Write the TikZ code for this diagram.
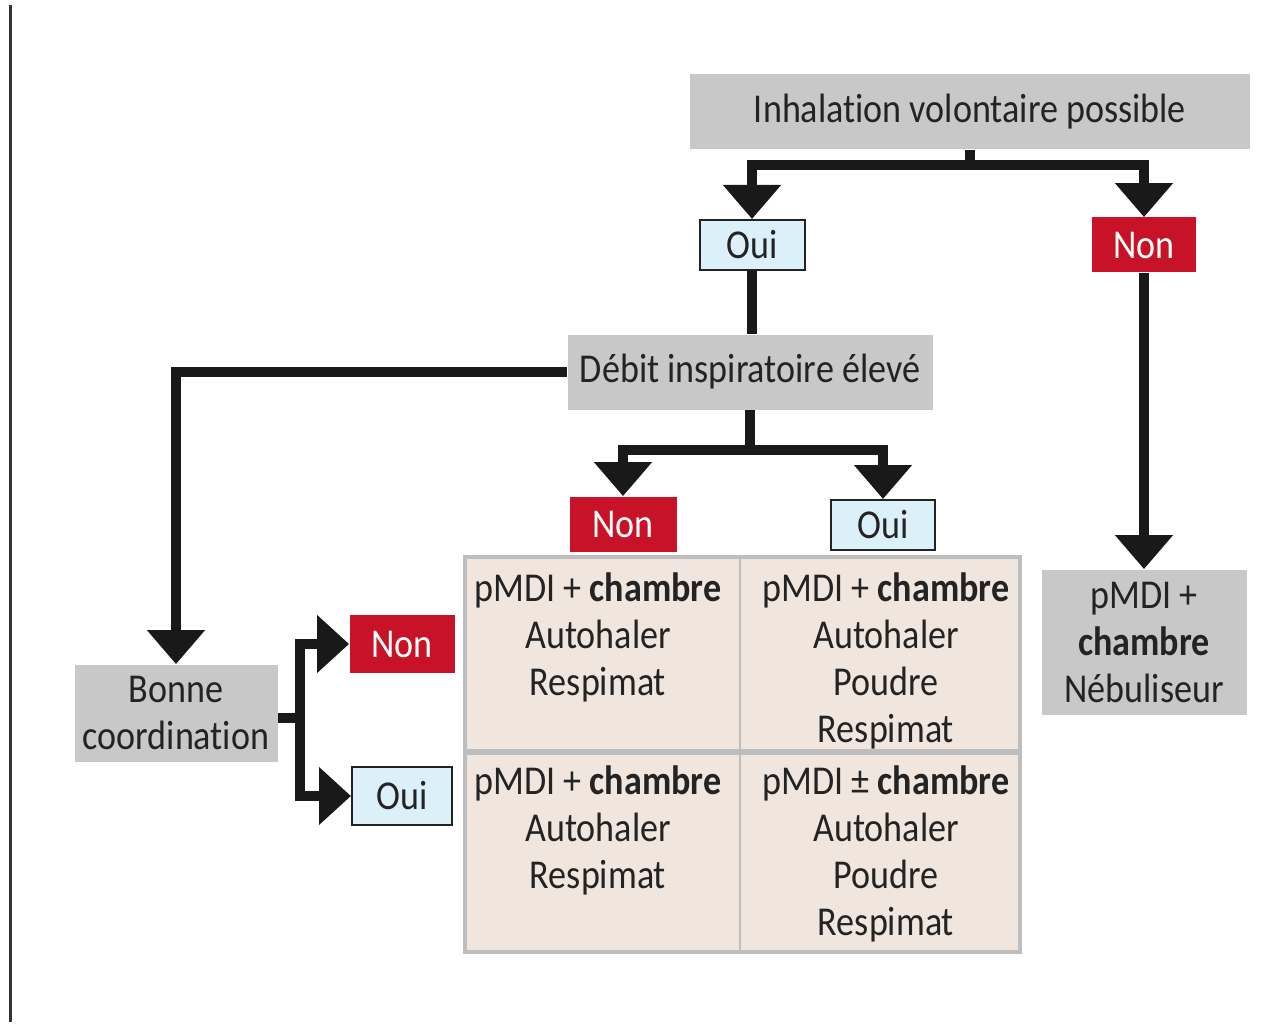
\documentclass[tikz,border=0pt]{standalone}
\usepackage{fontspec}
\setmainfont[FakeStretch=0.88,Ligatures=NoCommon]{Carlito}
\usetikzlibrary{arrows.meta}
\definecolor{boxgray}{RGB}{200,200,200}
\definecolor{ouiblue}{RGB}{220,240,250}
\definecolor{nonred}{RGB}{200,18,40}
\definecolor{cellbeige}{RGB}{240,230,222}
\definecolor{gridgray}{RGB}{190,190,190}
\definecolor{textdark}{RGB}{35,35,35}
\begin{document}
\begin{tikzpicture}[x=0.5pt,y=-0.5pt,
  every node/.style={font=\fontsize{20.5}{23.5}\selectfont, text=textdark, inner sep=0pt},
  graybox/.style={fill=boxgray, align=center},
  ouibox/.style={fill=ouiblue, draw=textdark, line width=1pt},
  nonbox/.style={fill=nonred, text=white},
  celltext/.style={align=center, anchor=north},
  conn/.style={line width=5pt, draw=black!90},
  arr/.style={conn, -{Triangle[width=28pt,length=17pt]}},
  harr/.style={conn, -{Triangle[width=28pt,length=16pt]}}
]
\useasboundingbox (0,0) rectangle (1263,1027);
\fill[white] (0,0) rectangle (1263,1027);
\draw[line width=1.5pt, draw=black!80] (10,5) -- (10,1022);

% nodes
\node[graybox, minimum width=280pt, minimum height=37.5pt] (top) at (970,112) {Inhalation volontaire possible};
\node[ouibox, minimum width=52.5pt, minimum height=25pt] (oui1) at (752,245) {Oui};
\node[nonbox, minimum width=52pt, minimum height=27.5pt] (non1) at (1144,245) {Non};
\node[graybox, minimum width=182.5pt, minimum height=37.5pt] (debit) at (750,372) {Débit inspiratoire élevé};
\node[nonbox, minimum width=53.5pt, minimum height=27.5pt] (non2) at (623,524) {Non};
\node[ouibox, minimum width=52pt, minimum height=25pt] (oui2) at (883,525) {Oui};
\node[graybox, minimum width=102.5pt, minimum height=72.5pt] (neb) at (1144,642) {pMDI +\\\textbf{chambre}\\Nébuliseur};
\node[graybox, minimum width=101.5pt, minimum height=48.5pt] (bonne) at (176,713) {Bonne\\coordination};
\node[nonbox, minimum width=52.5pt, minimum height=29pt] (non3) at (402,644) {Non};
\node[ouibox, minimum width=50pt, minimum height=29pt] (oui3) at (402,796) {Oui};

% table
\fill[cellbeige] (465,557) rectangle (1020,952);
\draw[gridgray, line width=1pt] (740,557) -- (740,952);
\draw[gridgray, line width=3pt] (465,752) -- (1020,752);
\draw[gridgray, line width=2pt] (465,557) rectangle (1020,952);
\node[celltext] (t11) at (598,572) {pMDI + \textbf{chambre}\\Autohaler\\Respimat};
\node[celltext] (t12) at (886,572) {pMDI + \textbf{chambre}\\Autohaler\\Poudre\\Respimat};
\node[celltext] (t21) at (598,765) {pMDI + \textbf{chambre}\\Autohaler\\Respimat};
\node[celltext] (t22) at (886,765) {pMDI ± \textbf{chambre}\\Autohaler\\Poudre\\Respimat};

% connectors
\coordinate (j1) at (970,165);
\draw[conn] (top.south) -- (j1);
\draw[arr] (j1) -| (oui1.north);
\draw[arr] (j1) -| (non1.north);
\draw[conn] (oui1.south) -- (debit.north -| oui1.south);
\draw[arr] (debit.west) -| (bonne.north);
\coordinate (j2) at (750,450);
\draw[conn] (debit.south) -- (j2);
\draw[arr] (j2) -| (non2.north);
\draw[arr] (j2) -| (oui2.north);
\draw[arr] (non1.south) -- (neb.north);
\coordinate (j3) at (300,718);
\draw[conn] (bonne.east |- j3) -- (j3);
\draw[harr] (j3) |- (non3.west);
\draw[harr] (j3) |- (oui3.west);
\end{tikzpicture}
\end{document}
